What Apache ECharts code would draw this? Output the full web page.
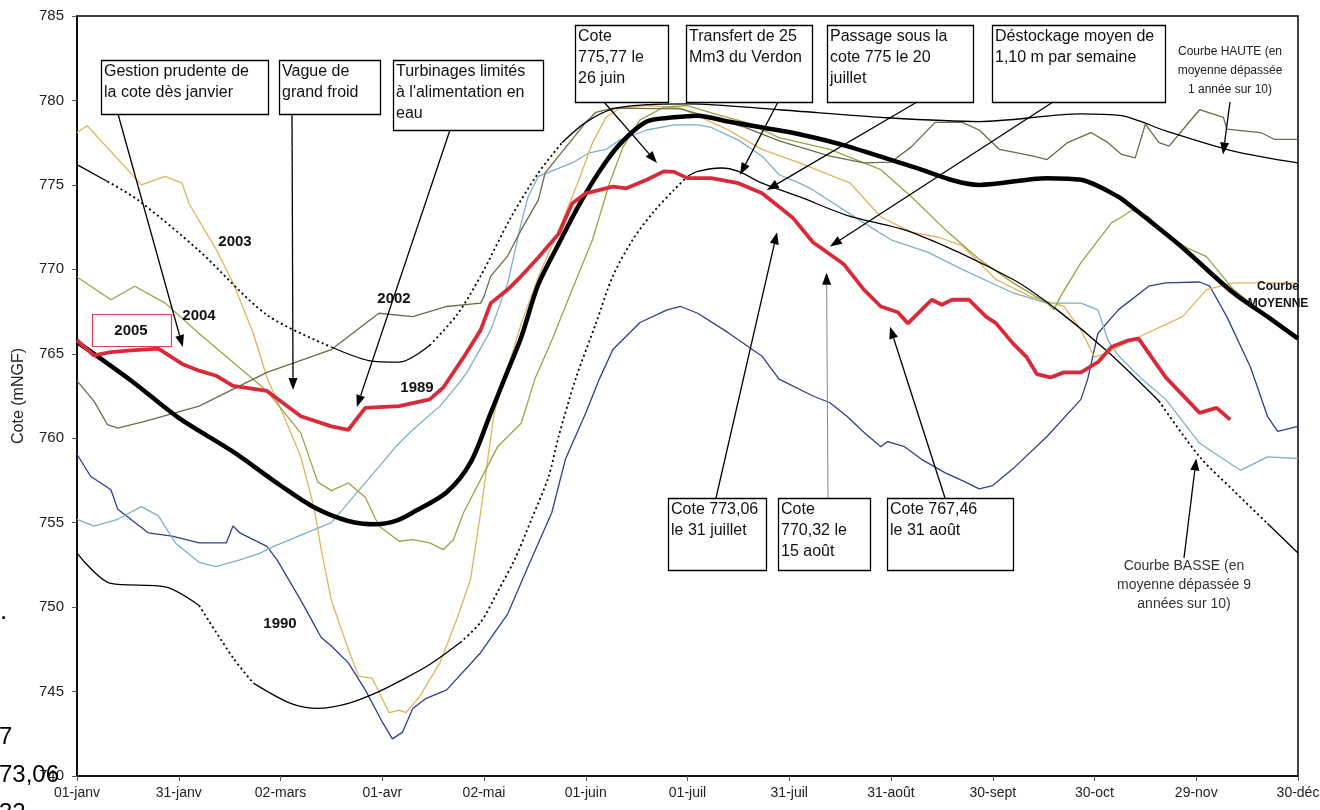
<!DOCTYPE html>
<html><head><meta charset="utf-8">
<script src="https://cdn.jsdelivr.net/npm/echarts/dist/echarts.min.js"></script>
<style>html,body{margin:0;padding:0;background:#fff;}#c{width:1320px;height:810px;}</style>
</head><body><div id="c"></div>
<script>
// ---- axis tick labels (one every 30 days) ----
const tickLabels = ['01-janv','31-janv','02-mars','01-avr','02-mai','01-juin','01-juil','31-juil','31-août','30-sept','30-oct','29-nov','30-déc'];

// ---- series: [day of year, cote mNGF] ----
const courbeHaute = [[0,776.2],[9,775.2],[18,774.1],[36,771.1],[56,767.3],[75,765.4],[86,764.6],[95,764.5],[104,765.5],[112,767.3],[119,769.6],[128,773.1],[136,775.7],[143,777.5],[150,778.7],[158,779.5],[168,779.75],[180,779.8],[207,779.45],[237,779.0],[266,778.75],[296,779.2],[308,779.1],[313,778.8],[321,778.2],[341,777.0],[360,776.3]];
const courbeBasse = [[0,753.2],[10,751.4],[26,751.2],[36,750.1],[46,747.0],[52,745.5],[63,744.3],[71,744.0],[80,744.3],[89,745.0],[95,745.6],[104,746.6],[113,747.9],[119,749.1],[124,750.9],[129,752.8],[134,755.2],[139,757.7],[142,760.1],[147,763.5],[153,766.8],[158,769.6],[164,771.8],[170,773.4],[176,774.7],[180,775.5],[183,775.8],[190,776.0],[195,775.8],[202,775.1],[213,774.3],[227,773.2],[246,772.2],[276,769.4],[289,767.6],[304,765.1],[319,762.2],[331,758.9],[341,756.9],[351,754.95],[360,753.2]];
const courbeMoyenne = [[0,765.7],[16,763.4],[30,761.2],[46,759.2],[60,757.2],[70,755.9],[80,755.1],[88,754.9],[94,755.1],[99,755.6],[109,756.8],[116,758.55],[122,761.5],[126,763.5],[131,766.0],[136,769.1],[142,771.5],[148,773.8],[154,775.8],[160,777.4],[168,778.75],[176,779.0],[183,779.1],[192,778.75],[202,778.4],[213,778.0],[227,777.3],[246,776.1],[266,775.0],[286,775.4],[296,775.3],[307,774.3],[311,773.7],[321,772.1],[327,771.1],[341,768.6],[351,767.2],[360,765.9]];
const an2005 = [[0,765.8],[5,764.9],[10,765.1],[16,765.2],[24,765.3],[31,764.4],[36,764.0],[41,763.7],[46,763.1],[56,762.8],[66,761.3],[75,760.7],[80,760.5],[85,761.8],[95,761.9],[104,762.3],[108,763.0],[114,764.8],[119,766.4],[122,768.0],[127,768.8],[131,769.6],[136,770.7],[142,772.1],[146,773.9],[150,774.5],[158,774.9],[162,774.8],[168,775.3],[173,775.8],[176,775.77],[180,775.4],[187,775.4],[195,775.1],[202,774.5],[207,773.7],[211,773.06],[217,771.6],[226,770.32],[232,768.8],[237,767.8],[242,767.46],[245,766.8],[249,767.6],[252,768.2],[255,767.9],[258,768.2],[263,768.2],[268,767.2],[271,766.8],[276,765.6],[280,764.8],[283,763.8],[287,763.6],[291,763.9],[296,763.9],[301,764.5],[305,765.4],[310,765.8],[313,765.9],[321,763.6],[331,761.5],[336,761.8],[340,761.1]];
const an2003 = [[0,778.1],[3,778.5],[19,775.0],[26,775.5],[31,775.1],[33,773.9],[41,771.2],[46,769.2],[52,766.2],[56,763.6],[61,761.3],[66,758.9],[70,755.8],[72,753.4],[75,750.4],[80,747.5],[83,745.9],[87,745.8],[92,743.75],[95,743.9],[97,743.75],[101,744.7],[107,746.7],[112,749.3],[116,751.6],[119,755.6],[121,758.6],[123,761.5],[126,763.5],[131,766.8],[136,769.55],[142,772.3],[148,775.3],[152,777.5],[156,779.0],[160,779.55],[168,779.7],[178,779.55],[184,779.0],[192,778.25],[202,777.1],[213,776.3],[228,775.1],[237,773.1],[246,772.2],[254,771.9],[261,771.4],[271,769.4],[281,768.4],[291,767.8],[296,766.4],[300,764.8],[303,765.0],[311,765.8],[326,767.2],[333,768.8],[341,769.2],[360,769.2]];
const an2004 = [[0,769.55],[10,768.2],[17,769.0],[26,768.0],[36,766.2],[56,762.8],[66,760.3],[71,757.4],[75,756.9],[80,757.35],[85,756.5],[89,754.8],[95,753.9],[99,754.0],[104,753.8],[108,753.4],[111,754.0],[114,755.6],[119,757.55],[124,759.5],[131,760.9],[135,763.5],[140,765.8],[146,768.8],[152,771.75],[157,775.1],[161,777.25],[166,778.85],[173,779.6],[180,779.7],[188,779.2],[198,778.65],[207,777.8],[222,777.1],[237,775.9],[246,774.3],[256,772.35],[266,770.6],[276,769.2],[286,768.0],[288,767.6],[290,768.4],[296,770.4],[305,772.75],[308,773.1],[311,773.5],[316,773.1],[321,772.1],[327,771.3],[333,770.75],[341,768.8],[351,767.2],[360,766.0]];
const an2002 = [[0,763.4],[5,762.2],[9,760.8],[12,760.6],[20,761.0],[36,761.9],[56,763.9],[75,765.25],[89,767.4],[99,767.2],[109,767.8],[119,768.0],[120,768.4],[122,769.6],[127,770.8],[131,772.35],[136,774.1],[138,775.7],[142,776.7],[146,777.7],[150,778.7],[153,779.3],[158,779.55],[178,779.5],[197,778.4],[207,777.6],[222,776.7],[232,776.3],[240,776.35],[246,777.25],[253,778.7],[261,778.7],[266,778.25],[272,777.1],[282,776.7],[286,776.5],[292,777.5],[299,778.1],[304,777.5],[308,776.8],[312,776.6],[315,778.6],[319,777.5],[322,777.3],[327,778.5],[331,779.45],[338,779.0],[339,778.3],[349,778.1],[353,777.7],[360,777.7]];
const an1990 = [[0,759.05],[4,757.75],[10,756.95],[12,755.8],[21,754.4],[28,754.2],[36,753.8],[44,753.8],[46,754.8],[48,754.4],[56,753.6],[59,752.8],[66,750.4],[69,749.3],[72,748.2],[75,747.7],[80,746.7],[85,745.1],[90,743.2],[93,742.2],[96,742.6],[99,744.0],[103,744.6],[109,745.1],[119,747.3],[127,749.6],[133,752.4],[140,755.6],[144,758.75],[150,761.5],[154,763.5],[158,765.25],[166,766.85],[174,767.6],[178,767.8],[183,767.4],[192,766.25],[202,764.85],[207,763.5],[217,762.5],[222,762.1],[227,761.3],[232,760.35],[237,759.5],[239,759.8],[244,759.5],[249,758.75],[256,757.95],[262,757.4],[266,757.0],[270,757.2],[276,758.2],[286,760.1],[296,762.3],[298,763.5],[301,766.2],[307,767.6],[316,769.0],[321,769.2],[331,769.25],[334,769.0],[339,767.2],[346,764.2],[351,761.3],[354,760.4],[360,760.7]];
const an1989 = [[0,755.2],[5,754.8],[12,755.2],[19,755.95],[24,755.4],[29,753.8],[36,752.65],[41,752.4],[48,752.8],[54,753.2],[58,753.6],[75,755.0],[89,758.3],[94,759.5],[99,760.5],[107,761.9],[112,763.1],[115,763.9],[122,766.4],[127,769.2],[131,772.75],[133,774.3],[136,775.5],[141,775.9],[146,776.3],[151,776.9],[156,777.1],[160,777.65],[168,778.25],[176,778.55],[183,778.55],[187,778.4],[195,777.65],[202,776.7],[207,775.6],[213,775.1],[217,774.7],[232,772.75],[240,771.75],[251,771.0],[261,770.0],[276,768.6],[286,768.0],[296,768.0],[301,767.6],[304,765.8],[307,764.9],[314,763.5],[321,762.3],[331,759.7],[343,758.1],[351,758.9],[360,758.8]];

// ---- annotation texts ----
const boxTexts = [
  'Gestion prudente de\nla cote dès janvier',
  'Vague de\ngrand froid',
  'Turbinages limités\nà l\'alimentation en\neau',
  'Cote\n775,77 le\n26 juin',
  'Transfert de 25\nMm3 du Verdon',
  'Passage sous la\ncote 775 le 20\njuillet',
  'Déstockage moyen de\n1,10 m par semaine',
  'Cote 773,06\nle 31 juillet',
  'Cote\n770,32 le\n15 août',
  'Cote 767,46\nle 31 août'
];
const noteHaute = 'Courbe HAUTE (en\nmoyenne dépassée\n1 année sur 10)';
const noteBasse = 'Courbe BASSE (en\nmoyenne dépassée 9\nannées sur 10)';
const yearLabels = ['2003','2004','2002','1989','1990'];
// arrow targets in data space [day, cote]
const arrowTargets = [[31.2,765.4],[63.7,762.85],[82.5,761.85],[171,776.3],[195.5,775.6],[203.4,774.7],[222,771.35],[337.9,776.8],[206.4,772.2],[221,769.8],[239.7,766.6],[330,758.8]];

// ---- layout ----
const FONT = '"Liberation Sans", Arial, sans-serif';
const boxLayout = [
  [101,60,167,54],[279,60,101,54],[393,60,150,70],
  [575,25,93,77],[686,25,126,77],[827,25,146,77],[992,25,173,77],
  [668,498,98,72],[778,498,92,72],[887,498,126,72]
];
const arrowStarts = [[118,114],[292,114],[450,130],[604,102],[778,102],[917,102],[1053,102],[1230,102],[716,498],[828,498],[945,498],[1184,558]];
const yearPos = [[235,242],[199,316],[394,299],[417,388],[280,624]];

function split(data, ranges){
  const solid=[], dotted=[];
  data.forEach(p=>{
    const inR = ranges.some(r=>p[0]>=r[0]&&p[0]<=r[1]);
    const strict = ranges.some(r=>p[0]>r[0]&&p[0]<r[1]);
    solid.push(strict ? [p[0],'-'] : p);
    dotted.push(inR ? p : [p[0],'-']);
  });
  return {solid, dotted};
}
const hS = split(courbeHaute, [[9,75],[104,143]]);
const bS = split(courbeBasse, [[36,52],[113,180],[319,351]]);

function line(name, data, color, width, extra){
  return Object.assign({type:'line', name, data, symbol:'none', showSymbol:false, silent:true,
    animation:false, color, lineStyle:{color, width}, z:2, connectNulls:false}, extra||{});
}
const series = [
  line('1990', an1990, '#2f3f8c', 1.3),
  line('1989', an1989, '#7db0c6', 1.3),
  line('2003', an2003, '#e2b35a', 1.3),
  line('2004', an2004, '#97a543', 1.3),
  line('2002', an2002, '#6e6a48', 1.3),
  line('haute', hS.solid, '#000', 1.3, {smooth:0.3}),
  line('haute-p', hS.dotted, '#000', 1.8, {smooth:0.3, lineStyle:{color:'#000', width:1.8, type:[2,3]}}),
  line('basse', bS.solid, '#000', 1.3, {smooth:0.3}),
  line('basse-p', bS.dotted, '#000', 1.8, {smooth:0.3, lineStyle:{color:'#000', width:1.8, type:[2,3]}}),
  line('moyenne', courbeMoyenne, '#000', 4.5, {smooth:0.3, z:3}),
  line('2005', an2005, '#d92a3a', 3.8, {z:4})
];

const chart = echarts.init(document.getElementById('c'));
chart.setOption({
  animation:false,
  backgroundColor:'#fff',
  grid:{left:77, right:22, top:16, bottom:34, containLabel:false, outerBoundsMode:'none', show:true, borderColor:'#000', borderWidth:1.5},
  xAxis:{type:'value', min:0, max:360, interval:30,
    axisLine:{show:true, lineStyle:{color:'#000', width:1.5}},
    axisTick:{show:true, length:5, lineStyle:{color:'#555'}},
    splitLine:{show:false},
    axisLabel:{formatter:v=>tickLabels[Math.round(v/30)]||'', color:'#222', fontSize:14, fontFamily:FONT, margin:10}},
  yAxis:{type:'value', min:740, max:785, interval:5,
    name:'Cote (mNGF)', nameLocation:'middle', nameGap:50,
    nameTextStyle:{color:'#222', fontSize:16, fontFamily:FONT},
    axisLine:{show:true, lineStyle:{color:'#000', width:1.5}},
    axisTick:{show:true, length:5, lineStyle:{color:'#555'}},
    splitLine:{show:false},
    axisLabel:{color:'#222', fontSize:15, fontFamily:FONT, margin:13}},
  series
});

// ---- annotations ----
const g = [];
function txt(text, x, y, size, opts){
  const o = Object.assign({align:'left', verticalAlign:'top', weight:'normal', lh:null, fill:'#111'}, opts||{});
  return {type:'text', z:20, silent:true, style:{text, x, y, font:`${o.weight} ${size}px ${FONT}`, fill:o.fill,
    align:o.align, verticalAlign:o.verticalAlign, textAlign:o.align, textVerticalAlign:o.verticalAlign, lineHeight:o.lh||Math.round(size*1.4)}};
}
boxLayout.forEach((b,i)=>{
  g.push({type:'rect', z:15, silent:true, shape:{x:b[0]+0.5,y:b[1]+0.5,width:b[2],height:b[3]}, style:{fill:'#fff', stroke:'#000', lineWidth:1.3}});
  g.push(txt(boxTexts[i], b[0]+3, b[1]+1, 16, {lh:21}));
});
// 2005 label box
g.push({type:'rect', z:15, silent:true, shape:{x:92.5,y:314.5,width:79,height:32}, style:{fill:'#fff', stroke:'#e0404c', lineWidth:1.2}});
g.push(txt('2005', 131, 331, 15, {weight:'bold', align:'center', verticalAlign:'middle'}));
yearLabels.forEach((t,i)=>g.push(txt(t, yearPos[i][0], yearPos[i][1], 15, {weight:'bold', align:'center', verticalAlign:'middle'})));
g.push(txt('Courbe', 1278, 287, 12, {weight:'bold', align:'center', verticalAlign:'middle'}));
g.push(txt('MOYENNE', 1278, 304, 12, {weight:'bold', align:'center', verticalAlign:'middle'}));
g.push(txt(noteHaute, 1230, 42, 12, {align:'center', lh:19, fill:'#222'}));
g.push(txt(noteBasse, 1184, 557, 14, {align:'center', lh:19, fill:'#333'}));
// arrows
arrowTargets.forEach((d,i)=>{
  const t = chart.convertToPixel({gridIndex:0}, d);
  const s = arrowStarts[i];
  const dx=t[0]-s[0], dy=t[1]-s[1], L=Math.hypot(dx,dy), ux=dx/L, uy=dy/L;
  const hl=12, hw=4.5, bx=t[0]-ux*hl, by=t[1]-uy*hl;
  const grey = (i===9);
  g.push({type:'line', z:16, silent:true, shape:{x1:s[0],y1:s[1],x2:bx,y2:by}, style:{stroke:grey?'#888':'#000', lineWidth:grey?1:1.3}});
  g.push({type:'polygon', z:16, silent:true, shape:{points:[[t[0],t[1]],[bx-uy*hw,by+ux*hw],[bx+uy*hw,by-ux*hw]]}, style:{fill:'#000'}});
});
// stray clipped text at the left edge of the reference picture
g.push(txt('.', 0, 594, 26, {fill:'#000'}));
g.push(txt('7\n73,06\n32', -1, 718, 24, {lh:38, fill:'#000'}));
chart.setOption({graphic:g});
</script></body></html>
